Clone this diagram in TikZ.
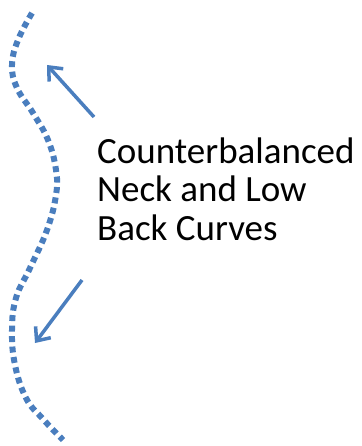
\documentclass[tikz,border=0pt]{standalone}
\usepackage{fontspec}
\setmainfont{Carlito}
\usepackage{xcolor}
\usetikzlibrary{arrows.meta,positioning}
\definecolor{spineblue}{RGB}{74,126,190}
\tikzset{
  spine/.style  = {spineblue, line width=6pt, dash pattern=on 6pt off 4.5pt},
  pointer/.style = {-{Straight Barb[length=11pt,width=19pt,line width=3.5pt]}, line width=3.5pt, spineblue},
  caption/.style = {align=left, inner sep=0pt, anchor=base west,
                    font=\fontsize{37}{38.5}\selectfont},
}

\begin{document}
\begin{tikzpicture}[x=1pt,y=-1pt]
\useasboundingbox (0,0) rectangle (361,446);
% dotted spine
\draw[spine] plot[smooth, tension=0.7] coordinates {
  (32,13) (18,40) (12,65) (17,88) (33,113) (48,140) (56,170) (56,195)
  (47,230) (30,268) (16,298) (12,330) (15,365) (26,398) (42,418) (63,440)};
% last line sets the base
\node[caption] (lbl) at (97,240) {Counterbalanced\\Neck and Low\\Back Curves};
\coordinate (neckTail) at (94,117);
\coordinate (neckTip)  at (47,65);
\coordinate (backTail) at (82,280);
\coordinate (backTip)  at (35,343);
\draw[pointer] (neckTail) -- (neckTip);
\draw[pointer] (backTail) -- (backTip);
\end{tikzpicture}
\end{document}
